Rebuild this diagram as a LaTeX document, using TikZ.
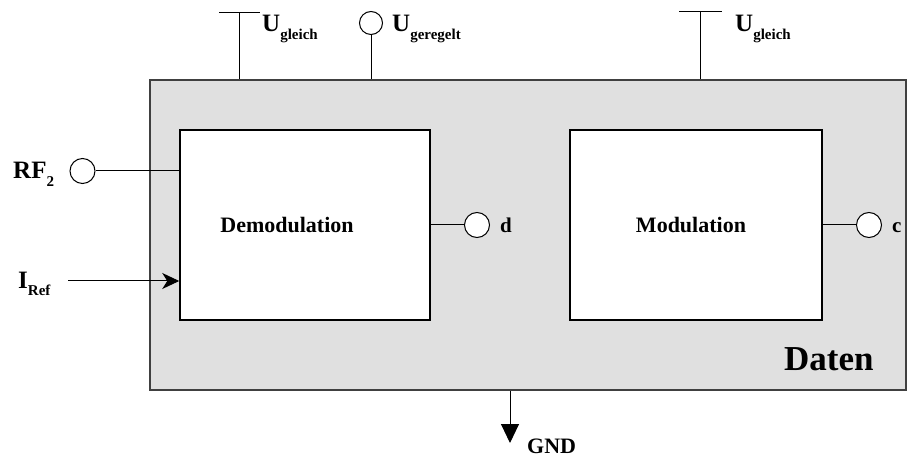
\documentclass[tikz,border=0pt]{standalone}
\usepackage{fontspec}
\setmainfont{Liberation Serif}
\usetikzlibrary{arrows.meta, positioning}
\newcommand{\lblsub}[2]{#1\raisebox{-0.3em}{\fontsize{15}{15}\selectfont #2}}

\begin{document}
\begin{tikzpicture}[x=1pt, y=-1pt, every node/.style={font=\bfseries}]
  \tikzset{
    blk/.style={draw, line width=1.5pt, fill=white, minimum height=190pt, inner sep=0pt},
    port/.style={circle, draw, line width=1pt, fill=white, minimum size=25pt, inner sep=0pt},
    lbl/.style={font=\bfseries\fontsize{25}{27}\selectfont, inner sep=0pt, anchor=base west},
    txt/.style={font=\bfseries\fontsize{22}{24}\selectfont, inner sep=0pt},
    wire/.style={line width=1pt}
  }
  \useasboundingbox (0,0) rectangle (908,457);
  % outer block
  \node[draw=black!75, line width=1.5pt, fill=black!12, minimum width=756pt,
        minimum height=310pt, inner sep=0pt] (daten) at (528,235) {};
  \node[txt, font=\bfseries\fontsize{35}{37}\selectfont, anchor=base west] (datenlbl) at (784,370) {Daten};
  % inner blocks
  \node[blk, minimum width=250pt] (demod) at (305,225) {};
  \node[blk, minimum width=252pt] (mod) at (696,225) {};
  \node[txt] (demodlbl) at (287,225) {Demodulation};
  \node[txt] (modlbl) at (691,225) {Modulation};
  % ports
  \node[port] (rf) at (82.5,171) {};
  \node[port] (pd) at (477,225) {};
  \node[port] (pc) at (869,225) {};
  \node[port, minimum size=23pt] (ureg) at (371,23) {};
  \node[lbl] (rflbl) at (13,179) {\lblsub{RF}{2}};
  \node[lbl, font=\bfseries\fontsize{21}{23}\selectfont] (dlbl) at (500,233) {d};
  \node[lbl, font=\bfseries\fontsize{21}{23}\selectfont] (clbl) at (892,233) {c};
  \node[lbl] (ireflbl) at (18,288) {\lblsub{I}{Ref}};
  \node[lbl] (ureglbl) at (392,32) {\lblsub{U}{geregelt}};
  \node[lbl] (ugl1lbl) at (262,32) {\lblsub{U}{gleich}};
  \node[lbl] (ugl2lbl) at (735,32) {\lblsub{U}{gleich}};
  % supply bars
  \coordinate (ugl1) at (239,13);
  \coordinate (ugl2) at (700,12);
  \draw[wire] (219,13) -- (260,13);
  \draw[wire] (679,12) -- (722,12);
  \draw[wire] (ugl1) -- (ugl1 |- daten.north);
  \draw[wire] (ugl2) -- (ugl2 |- daten.north);
  \draw[wire] (ureg.south) -- (ureg.south |- daten.north);
  % signal wires
  \draw[wire] (rf.east) -- (rf.east -| demod.west);
  \draw[wire] (demod.east) -- (pd.west);
  \draw[wire] (mod.east) -- (pc.west);
  \coordinate (iref) at (68,281);
  \draw[wire, -{Stealth[length=17pt, width=16pt, inset=5pt]}] (iref) -- (iref -| demod.west);
  \coordinate (gnd) at (510,443);
  \draw[wire, -{Triangle[length=19pt, width=18pt]}] (daten.south -| gnd) -- (gnd);
  \node[lbl, font=\bfseries\fontsize{22}{24}\selectfont] (gndlbl) at (527,453) {GND};
\end{tikzpicture}
\end{document}
